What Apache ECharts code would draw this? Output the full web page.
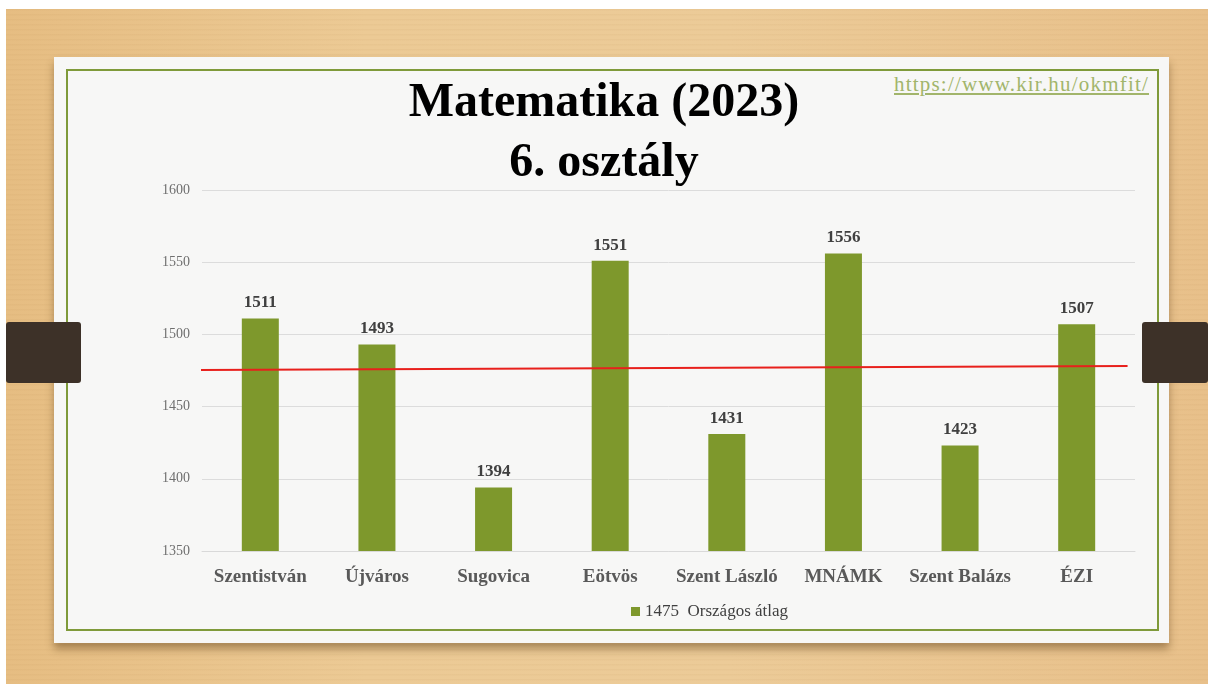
<!DOCTYPE html>
<html>
<head>
<meta charset="utf-8">
<script src="https://cdn.jsdelivr.net/npm/echarts@6/dist/echarts.min.js"></script>
<style>
    html, body {margin: 0; padding: 0; width: 1208px; height: 684px; overflow: hidden; background: #fff;}
    #wood {
        position: absolute; left: 6px; top: 9px; right: 0; bottom: 0;
        background:
            repeating-linear-gradient(180deg, rgba(160,110,50,0.05) 0px, rgba(160,110,50,0.05) 1px, rgba(255,255,255,0) 2px, rgba(255,255,255,0) 5px),
            linear-gradient(90deg, #e6bd82 0%, #ecca95 30%, #eccb98 60%, #e8c08a 100%);
    }
    #card {
        position: absolute; left: 54px; top: 57px; width: 1115px; height: 586px;
        background: #f7f7f6;
        box-shadow: 0 6px 8px rgba(90,60,20,0.45);
    }
    #frame {
        position: absolute; left: 66px; top: 69px; width: 1089px; height: 558px;
        border: 2px solid #7f9a3a;
    }
    .tab {position: absolute; top: 322px; height: 61px; background: #3d3128; border-radius: 3px;}
    #tabL {left: 6px; width: 75px;}
    #tabR {left: 1142px; width: 66px;}
    #link {
        position: absolute; left: 894px; top: 72px;
        font-family: "Liberation Serif", serif; font-size: 21px; letter-spacing: 1.2px;
        color: #a2b56b; text-decoration: underline;
    }
    #chart {position: absolute; left: 0; top: 0; width: 1208px; height: 684px;}
</style>
</head>
<body>
<div id="wood"></div>
<div id="card"></div>
<div id="frame"></div>
<div class="tab" id="tabL"></div>
<div class="tab" id="tabR"></div>
<div id="link">https://www.kir.hu/okmfit/</div>
<div id="chart"></div>
<script>
var schools = ['Szentistván', 'Újváros', 'Sugovica', 'Eötvös', 'Szent László', 'MNÁMK', 'Szent Balázs', 'ÉZI'];
var scores = [1511, 1493, 1394, 1551, 1431, 1556, 1423, 1507];
var avgLine = [[-0.003, 1475.3], [0.992, 1478.2]];
var yTicks = {min: 1350, max: 1600, step: 50};

var serif = '"Liberation Serif", "DejaVu Serif", serif';

var option = {
    title: {
        text: 'Matematika (2023)\n6. osztály',
        left: 'center',
        top: 69,
        textStyle: {
            fontFamily: serif,
            fontSize: 48,
            fontWeight: 'bold',
            color: '#000',
            lineHeight: 60
        }
    },
    legend: {
        data: ['1475  Országos átlag'],
        left: 626,
        top: 598,
        itemWidth: 9,
        itemHeight: 9,
        itemGap: 4,
        icon: 'rect',
        textStyle: {
            fontFamily: serif,
            fontSize: 17,
            color: '#404040'
        }
    },
    grid: {
        left: 202,
        right: 73,
        top: 190,
        bottom: 133
    },
    xAxis: [
        {
            type: 'category',
            data: schools,
            axisLine: {lineStyle: {color: '#d9d9d9'}},
            axisTick: {show: false},
            axisLabel: {
                interval: 0,
                margin: 17,
                fontFamily: serif,
                fontSize: 19,
                fontWeight: 'bold',
                color: '#595959'
            }
        },
        {
            type: 'value',
            min: 0,
            max: 1,
            show: false
        }
    ],
    yAxis: {
        type: 'value',
        min: yTicks.min,
        max: yTicks.max,
        interval: yTicks.step,
        axisLine: {show: false},
        axisTick: {show: false},
        axisLabel: {
            margin: 12,
            fontFamily: serif,
            fontSize: 14,
            color: '#6f6f6f',
            formatter: function (v) { return String(v); }
        },
        splitLine: {lineStyle: {color: '#dcdcdc'}}
    },
    series: [
        {
            name: '1475  Országos átlag',
            type: 'bar',
            barWidth: 37,
            itemStyle: {color: '#7e982c'},
            label: {
                show: true,
                position: 'top',
                distance: 7,
                fontFamily: serif,
                fontSize: 17,
                fontWeight: 'bold',
                color: '#404040'
            },
            data: scores
        },
        {
            name: 'avg',
            type: 'line',
            xAxisIndex: 1,
            showSymbol: false,
            silent: true,
            lineStyle: {color: '#e8201c', width: 2},
            data: avgLine,
            z: 5
        }
    ]
};

var myChart = echarts.init(document.getElementById('chart'));
myChart.setOption(option);
</script>
</body>
</html>
